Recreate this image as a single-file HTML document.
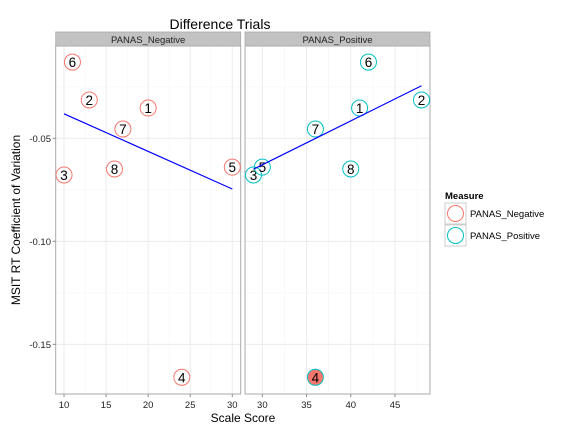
<!DOCTYPE html>
<html><head><meta charset="utf-8"><style>body{margin:0;background:#fff}svg{display:block;font-family:"Liberation Sans",sans-serif}</style></head>
<body>
<svg id="c" width="576" height="432"></svg>
<script>
const negIds=["1","2","3","4","5","6","7","8"];
const negX=[20,13,10,24,30,11,17,16];
const negY=[-0.0353,-0.0314,-0.0678,-0.166,-0.064,-0.013,-0.0455,-0.0649];
const posIds=["1","2","3","4","5","6","7","8"];
const posX=[41,48,29,36,30,42,36,40];
const posY=[-0.0353,-0.0314,-0.0678,-0.166,-0.064,-0.013,-0.0455,-0.0649];
const negLineX=[10,30];
const negLineY=[-0.0381,-0.0746];
const posLineX=[29,48];
const posLineY=[-0.0650,-0.0245];
const negTicks=[10,15,20,25,30];
const posTicks=[30,35,40,45];
const yTicks=[-0.05,-0.10,-0.15];
const yTickLabels=["-0.05","-0.10","-0.15"];

const NS="http://www.w3.org/2000/svg";
const svg=document.getElementById('c');
function mk(t,a,p){const e=document.createElementNS(NS,t);for(const k in a)e.setAttribute(k,a[k]);(p||svg).appendChild(e);return e;}
const pTop=46,pBot=394,yMin=-0.1741,yMax=-0.0052;
const yS=v=>pTop+(yMax-v)/(yMax-yMin)*(pBot-pTop);
const panels=[
 {name:"PANAS_Negative",x0:55.7,x1:240.7,d0:9.01,d1:31.0,ticks:negTicks,ids:negIds,xs:negX,ys:negY,lx:negLineX,ly:negLineY,col:"#F8766D"},
 {name:"PANAS_Positive",x0:245,x1:430,d0:28.04,d1:48.96,ticks:posTicks,ids:posIds,xs:posX,ys:posY,lx:posLineX,ly:posLineY,col:"#00BFC4"}
];
const t=mk('text',{x:220,y:29,'text-anchor':'middle','font-size':14});t.textContent="Difference Trials";


panels.forEach((p,pi)=>{
 const xS=v=>p.x0+(v-p.d0)/(p.d1-p.d0)*(p.x1-p.x0);
 const g=mk('g',{});
 
 
 mk('rect',{x:p.x0,y:pTop,width:p.x1-p.x0,height:pBot-pTop,fill:'#fff'},g);
 for(let i=0;i<p.ticks.length+1;i++){const v=p.ticks[0]+(i-0.5)*5;const x=xS(v);if(x>p.x0&&x<p.x1)mk('line',{x1:x,x2:x,y1:pTop,y2:pBot,stroke:'#f5f5f5','stroke-width':0.6},g);}
 [-0.025,-0.075,-0.125].forEach(v=>mk('line',{x1:p.x0,x2:p.x1,y1:yS(v),y2:yS(v),stroke:'#f5f5f5','stroke-width':0.6},g));
 p.ticks.forEach(v=>{const x=xS(v);mk('line',{x1:x,x2:x,y1:pTop,y2:pBot,stroke:'#ebebeb','stroke-width':1},g);
  mk('line',{x1:x,x2:x,y1:pBot,y2:pBot+3,stroke:'#888'},g);
  const l=mk('text',{x:x,y:pBot+14,'text-anchor':'middle','font-size':9.5,fill:'#222'},g);l.textContent=v;
  
  });
 yTicks.forEach(v=>mk('line',{x1:p.x0,x2:p.x1,y1:yS(v),y2:yS(v),stroke:'#ebebeb','stroke-width':1},g));
 mk('rect',{x:p.x0,y:pTop,width:p.x1-p.x0,height:pBot-pTop,fill:'none',stroke:'#aaa','stroke-width':1},g);
 mk('rect',{x:p.x0,y:32,width:p.x1-p.x0,height:14,fill:'#c2c2c2',stroke:'#aaa','stroke-width':0.8},g);
 const st=mk('text',{x:(p.x0+p.x1)/2,y:43,'text-anchor':'middle','font-size':9.5,fill:'#222'},g);st.textContent=p.name;
 
 
 p.xs.forEach((xv,i)=>{const cx=xS(xv),cy=yS(p.ys[i]);
  const filled=(pi===1&&p.ids[i]==="4");
  const c=mk('circle',{cx:cx,cy:cy,r:8,fill:filled?'#F8766D':'none',stroke:p.col,'stroke-width':1},g);
  
  
  const tx=mk('text',{x:cx,y:cy+5,'text-anchor':'middle','font-size':13.5,fill:'#000'},g);tx.textContent=p.ids[i];
  
  });
 const ln=mk('line',{x1:xS(p.lx[0]),y1:yS(p.ly[0]),x2:xS(p.lx[1]),y2:yS(p.ly[1]),stroke:'#0000ff','stroke-width':1.2},g);
 
 
});
yTicks.forEach((v,i)=>{const y=yS(v);mk('line',{x1:52.7,x2:55.7,y1:y,y2:y,stroke:'#888'});
 const l=mk('text',{x:51,y:y+3.5,'text-anchor':'end','font-size':9.5,fill:'#222'});l.textContent=yTickLabels[i];
 
 });
const xt=mk('text',{x:243,y:422,'text-anchor':'middle','font-size':12});xt.textContent="Scale Score";


const yt=mk('text',{x:0,y:0,'text-anchor':'middle','font-size':12,transform:'translate(20,220) rotate(-90)'});yt.textContent="MSIT RT Coefficient of Variation";


const lg=mk('g',{});


const lt=mk('text',{x:445,y:199,'font-size':9.5,'font-weight':'bold'},lg);lt.textContent="Measure";
[["PANAS_Negative","#F8766D"],["PANAS_Positive","#00BFC4"]].forEach((e,i)=>{
 const y=203+i*22;
 mk('rect',{x:445,y:y,width:21,height:21,fill:'#fff',stroke:'#ccc'},lg);
 mk('circle',{cx:455.5,cy:y+10.5,r:8,fill:'none',stroke:e[1]},lg);
 const tx=mk('text',{x:470,y:y+14,'font-size':9.5},lg);tx.textContent=e[0];
 
 
});
</script>
</body></html>
